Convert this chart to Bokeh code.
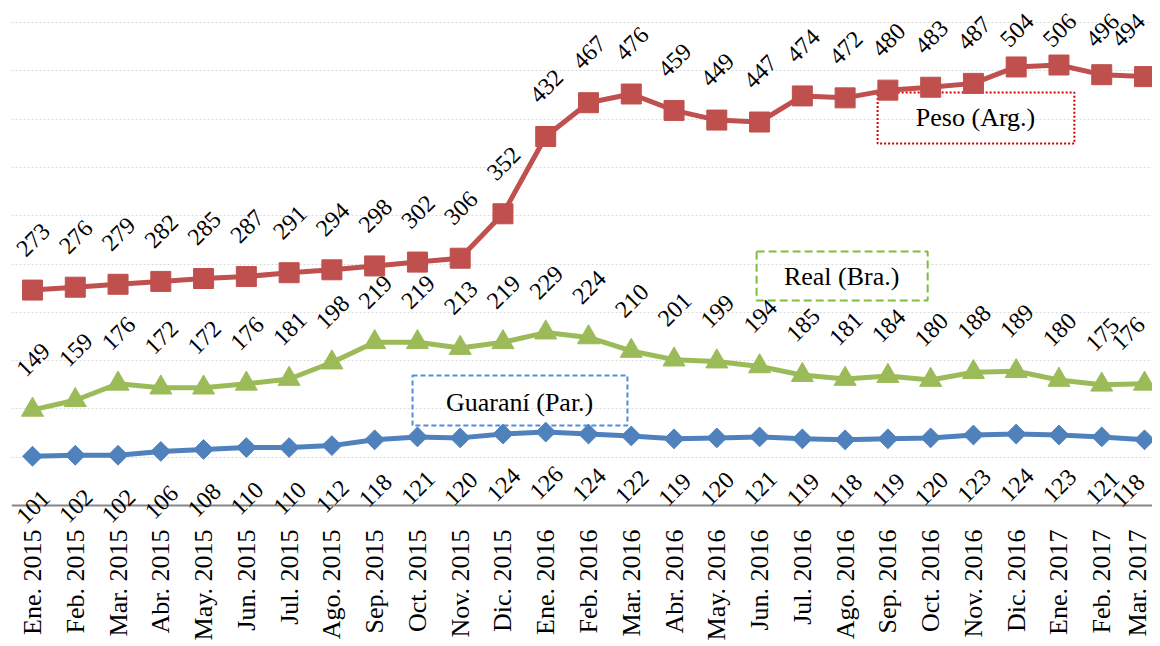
import math
from bokeh.plotting import figure
from bokeh.models import FixedTicker, BoxAnnotation, Label, LabelSet, Range1d, ColumnDataSource
from bokeh.core.properties import value
from bokeh.embed import file_html
from bokeh.resources import INLINE

months = ["Ene. 2015", "Feb. 2015", "Mar. 2015", "Abr. 2015", "May. 2015", "Jun. 2015",
          "Jul. 2015", "Ago. 2015", "Sep. 2015", "Oct. 2015", "Nov. 2015", "Dic. 2015",
          "Ene. 2016", "Feb. 2016", "Mar. 2016", "Abr. 2016", "May. 2016", "Jun. 2016",
          "Jul. 2016", "Ago. 2016", "Sep. 2016", "Oct. 2016", "Nov. 2016", "Dic. 2016",
          "Ene. 2017", "Feb. 2017", "Mar. 2017"]
peso = [273, 276, 279, 282, 285, 287, 291, 294, 298, 302, 306, 352, 432, 467, 476, 459,
        449, 447, 474, 472, 480, 483, 487, 504, 506, 496, 494]
real = [149, 159, 176, 172, 172, 176, 181, 198, 219, 219, 213, 219, 229, 224, 210, 201,
        199, 194, 185, 181, 184, 180, 188, 189, 180, 175, 176]
guarani = [101, 102, 102, 106, 108, 110, 110, 112, 118, 121, 120, 124, 126, 124, 122, 119,
           120, 121, 119, 118, 119, 120, 123, 124, 123, 121, 118]
grid_ticks = [100, 150, 200, 250, 300, 350, 400, 450, 500, 550]
AXIS_BASE = 50

xs = list(range(len(months)))
FONT = "Liberation Serif"
LABEL_CAP = 490  # labels are kept inside the chart area near the top

p = figure(width=1152, height=644, output_backend="svg", toolbar_location=None,
           x_range=Range1d(-0.491, 26.187), y_range=Range1d(-93.9, 572.8),
           min_border_left=11, min_border_right=0, min_border_top=0, min_border_bottom=0)
p.outline_line_color = None
p.background_fill_color = "white"

p.yaxis.visible = False
p.yaxis.ticker = FixedTicker(ticks=grid_ticks)
p.xgrid.grid_line_color = None
p.ygrid.grid_line_color = "#d9d9d9"
p.ygrid.grid_line_dash = "2 2"
p.ygrid.grid_line_width = 1

ax = p.xaxis[0]
ax.fixed_location = AXIS_BASE
ax.ticker = FixedTicker(ticks=xs)
ax.major_label_overrides = {i: m for i, m in enumerate(months)}
ax.major_label_orientation = math.pi / 2
ax.major_label_text_font = FONT
ax.major_label_text_font_size = "26px"
ax.major_label_text_color = "black"
ax.major_label_standoff = 24
ax.major_tick_out = 0
ax.major_tick_in = 0
ax.minor_tick_out = 0
ax.minor_tick_in = 0
ax.axis_line_color = "#868686"
ax.axis_line_width = 2

# annotation boxes
box_kw = dict(fill_color=None, fill_alpha=0, line_width=2, line_alpha=1, level="underlay")
p.add_layout(BoxAnnotation(left=19.76, right=24.36, bottom=424.7, top=477.5,
                           line_color="#d40000", line_dash="2 2", **box_kw))
p.add_layout(BoxAnnotation(left=16.93, right=20.93, bottom=262.2, top=312.9,
                           line_color="#7dbf3b", line_dash="8 4", **box_kw))
p.add_layout(BoxAnnotation(left=8.885, right=13.91, bottom=132.8, top=184.6,
                           line_color="#4f8fdc", line_dash="5 3", **box_kw))

RED, GREEN, BLUE = "#c0504d", "#9bbb59", "#4f81bd"

p.line(xs, peso, line_color=RED, line_width=5)
p.scatter(xs, peso, marker="square", size=20, fill_color=RED, line_color=RED)
p.line(xs, real, line_color=GREEN, line_width=5)
p.scatter(xs, real, marker="triangle", size=22, fill_color=GREEN, line_color=GREEN)
p.line(xs, guarani, line_color=BLUE, line_width=5)
p.scatter(xs, guarani, marker="square", angle=math.pi / 4, size=14,
          fill_color=BLUE, line_color=BLUE)

x_shift = [1] * (len(xs) - 1) + [-16]


def add_labels(vals, dy):
    src = ColumnDataSource(dict(x=xs, y=[min(v, LABEL_CAP) for v in vals],
                                t=[str(v) for v in vals], xo=x_shift))
    p.add_layout(LabelSet(x="x", y="y", text="t", source=src, x_offset="xo", y_offset=dy,
                          angle=math.pi / 4, text_align="center", text_baseline="middle",
                          text_font=value(FONT), text_font_size="24px",
                          text_color="black"))


add_labels(peso, 50)
add_labels(real, 50)
add_labels(guarani, -51)

for x, y, t in [(22.05, 451.7, "Peso (Arg.)"), (18.92, 287.1, "Real (Bra.)"),
                (11.39, 156.6, "Guaraní (Par.)")]:
    p.add_layout(Label(x=x, y=y, text=t, text_align="center", text_baseline="middle",
                       text_font=FONT, text_font_size="26px", text_color="black"))

open("out.html", "w").write(file_html(p, INLINE))
